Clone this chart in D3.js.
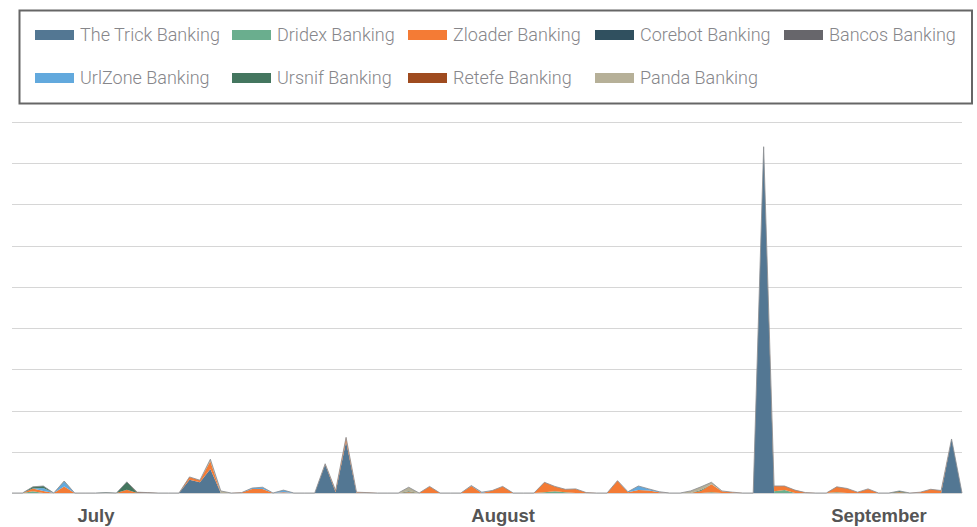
<!DOCTYPE html>
<html>
<head>
<meta charset="utf-8">
<script src="https://cdn.jsdelivr.net/npm/d3@7"></script>
<style>
  html, body { margin: 0; padding: 0; background: #ffffff; }
  svg { display: block; }
</style>
</head>
<body>
<svg id="chart" width="977" height="527"></svg>
<script>
// ---------------- DATA ----------------
const seriesNames = ["The Trick Banking", "Dridex Banking", "Zloader Banking", "Corebot Banking", "Bancos Banking",
                     "UrlZone Banking", "Ursnif Banking", "Retefe Banking", "Panda Banking"];
const seriesColors = ["#537793", "#6aae8e", "#f47b35", "#30505f", "#67666b",
                      "#62a9dd", "#44765f", "#9f4b1f", "#b6b098"];

// 92 daily points (1 Jul – 30 Sep)
const dayCount = 92;
const monthLabels = ["July", "August", "September"];
const monthLabelDay = [8, 47, 83];
const yTicks = [0, 100, 200, 300, 400, 500, 600, 700, 800, 900];

const trick = [
  0,0,0,0,0,0,0,0,0,0,
  0,0,0,0,0,0,0,32,26,58,
  0,0,0,0,0,0,0,0,0,0,
  69,2,125,0,0,0,0,0,0,0,
  0,0,0,0,0,0,0,0,0,0,
  0,0,0,0,0,0,0,0,0,0,
  0,0,0,0,0,0,0,0,0,0,
  0,0,840,0,0,0,0,0,0,0,
  0,0,0,0,0,0,0,0,0,0,
  131,0];
const dridex = [
  0,0,4,0,0,0,0,0,0,0,
  0,0,0,0,0,0,0,0,0,0,
  0,0,0,0,0,0,0,0,0,0,
  0,0,0,0,0,0,0,0,0,0,
  0,0,0,0,0,0,0,0,0,0,
  0,2,4,2,0,0,0,0,0,0,
  0,0,0,0,0,0,0,2,0,0,
  0,0,0,4,7,0,0,0,0,2,
  0,0,0,0,0,0,0,0,0,0,
  0,0];
const zloader = [
  0,0,7,5,0,16,0,0,0,0,
  0,8,0,0,0,0,0,7,5,19,
  0,0,1,10,10,0,2,0,0,0,
  2,4,10,2,1,0,0,0,2,0,
  16,0,0,0,17,0,6,16,0,0,
  0,24,12,7,10,1,0,0,30,2,
  7,6,2,0,0,0,5,19,4,2,
  0,0,0,13,10,7,1,0,0,13,
  11,2,10,0,0,2,0,2,9,6,
  0,0];
const corebot = [
  0,0,0,0,0,0,0,0,0,0,
  0,0,0,0,0,0,0,0,0,0,
  0,0,0,0,0,0,0,0,0,0,
  0,0,0,0,0,0,0,0,0,0,
  0,0,0,0,0,0,0,0,0,0,
  0,0,0,0,0,0,0,0,0,0,
  0,0,0,0,0,0,0,0,0,0,
  0,0,0,0,0,0,0,0,0,0,
  0,0,0,0,0,0,0,0,0,0,
  0,0];
const bancos = [
  0,0,0,0,0,0,0,0,0,0,
  0,0,0,0,0,0,0,0,0,0,
  0,0,0,0,0,0,0,0,0,0,
  0,0,0,0,0,0,0,0,0,0,
  0,0,0,0,0,0,0,0,0,0,
  0,0,0,0,0,0,0,0,0,0,
  0,0,0,0,0,0,0,0,0,0,
  0,0,0,0,0,0,0,0,0,0,
  0,0,0,0,0,0,0,0,0,0,
  0,0];
const urlzone = [
  0,0,0,7,0,12,0,0,0,0,
  0,0,0,0,0,0,0,0,0,0,
  0,0,0,2,4,0,5,0,0,0,
  0,0,0,0,0,0,0,0,0,0,
  0,0,0,0,1,2,0,0,0,0,
  0,0,0,0,0,0,0,0,0,1,
  10,4,1,0,0,0,0,0,0,0,
  0,0,0,0,0,0,0,0,0,0,
  0,0,0,0,0,0,0,0,0,0,
  0,0];
const ursnif = [
  0,0,4,5,0,1,0,0,0,1,
  0,19,0,0,0,0,0,0,0,0,
  0,0,0,0,0,0,0,0,0,0,
  0,0,0,0,0,0,0,0,2,0,
  0,0,0,0,0,0,0,0,0,0,
  0,0,0,0,0,0,0,0,0,0,
  0,0,0,0,0,0,2,0,0,0,
  0,0,0,0,0,0,0,0,0,0,
  0,0,0,0,0,3,0,0,0,0,
  0,0];
const retefe = [
  0,0,0,0,0,0,0,0,0,0,
  0,0,2,1,0,0,0,0,0,0,
  0,0,0,0,0,0,0,0,0,0,
  0,0,0,0,0,0,0,0,0,0,
  0,0,0,0,0,0,0,0,0,0,
  0,0,0,0,0,0,0,0,0,0,
  0,0,0,0,0,0,0,0,0,0,
  0,0,0,0,0,0,0,0,0,0,
  0,0,0,0,0,0,0,0,0,0,
  0,0];
const panda = [
  0,0,0,0,0,0,0,0,0,0,
  0,0,0,0,0,0,0,0,0,5,
  5,0,0,0,0,0,0,0,0,0,
  0,0,0,0,0,0,0,0,10,0,
  0,0,0,0,0,0,0,0,0,0,
  0,0,0,0,0,0,0,0,0,0,
  0,0,0,0,0,5,8,5,1,0,
  0,0,0,0,0,0,0,0,0,0,
  0,0,0,0,0,0,0,0,0,0,
  0,0];

const seriesValues = [trick, dridex, zloader, corebot, bancos, urlzone, ursnif, retefe, panda];

// ---------------- BUILD ----------------
const rows = d3.range(dayCount).map(i => {
  const r = { day: i };
  seriesNames.forEach((n, k) => r[n] = seriesValues[k][i]);
  return r;
});

const svg = d3.select("#chart");
const plot = { left: 12, right: 962, top: 122, bottom: 493 };

const x = d3.scaleLinear().domain([0, dayCount - 1]).range([plot.left, plot.right]);
const y = d3.scaleLinear().domain([0, 900]).range([plot.bottom, plot.top]);

// grid lines
const yAxis = d3.axisLeft(y).tickValues(yTicks).tickSize(-(plot.right - plot.left)).tickFormat("");
const gy = svg.append("g").attr("transform", `translate(${plot.left},0)`).call(yAxis);
gy.select(".domain").remove();
gy.selectAll(".tick line").attr("stroke", "#d6d6d6").attr("stroke-width", 1)
  .attr("shape-rendering", "crispEdges");

// stacked areas
const stack = d3.stack().keys(seriesNames).order(d3.stackOrderNone).offset(d3.stackOffsetNone);
const layers = stack(rows);
const area = d3.area()
  .x(d => x(d.data.day))
  .y0(d => y(d[0]))
  .y1(d => y(d[1]))
  .curve(d3.curveLinear);

svg.append("g").selectAll("path")
  .data(layers)
  .join("path")
  .attr("d", area)
  .attr("fill", (d, i) => seriesColors[i]);

// outline on top of the stack
const topLayer = layers[layers.length - 1];
svg.append("path")
  .datum(topLayer)
  .attr("d", d3.line().x(d => x(d.data.day)).y(d => y(d[1])))
  .attr("fill", "none")
  .attr("stroke", "#8d8f93")
  .attr("stroke-width", 1)
  .attr("stroke-opacity", 0.85);

// month labels (x axis)
const xAxis = d3.axisBottom(x).tickValues(monthLabelDay)
  .tickFormat((d, i) => monthLabels[i]).tickSize(0).tickPadding(0);
const gx = svg.append("g").attr("transform", `translate(0,${plot.bottom})`).call(xAxis);
gx.select(".domain").remove();
gx.selectAll(".tick text")
  .attr("y", 29)
  .attr("dy", 0)
  .attr("fill", "#555555")
  .style("font-family", "'Liberation Sans', Arial, sans-serif")
  .style("font-size", "18.5px")
  .style("font-weight", "bold");

// legend
const legend = svg.append("g");
legend.append("rect")
  .attr("x", 19.5).attr("y", 10.5).attr("width", 952.5).attr("height", 93)
  .attr("fill", "#ffffff").attr("stroke", "#666666").attr("stroke-width", 2);

const colX = [35, 232, 408, 595, 784];
const rowY = [30, 73];
const items = legend.selectAll("g.item")
  .data(seriesNames)
  .join("g")
  .attr("class", "item")
  .attr("transform", (d, i) => `translate(${colX[i % 5]},${rowY[Math.floor(i / 5)]})`);
items.append("rect")
  .attr("width", 39).attr("height", 10)
  .attr("fill", (d, i) => seriesColors[i]);
items.append("text")
  .attr("x", 45).attr("y", 11)
  .attr("fill", "#86868a")
  .style("font-family", "Roboto, 'Liberation Sans', sans-serif")
  .style("font-size", "18px")
  .style("font-weight", "300")
  .text(d => d);
</script>
</body>
</html>
